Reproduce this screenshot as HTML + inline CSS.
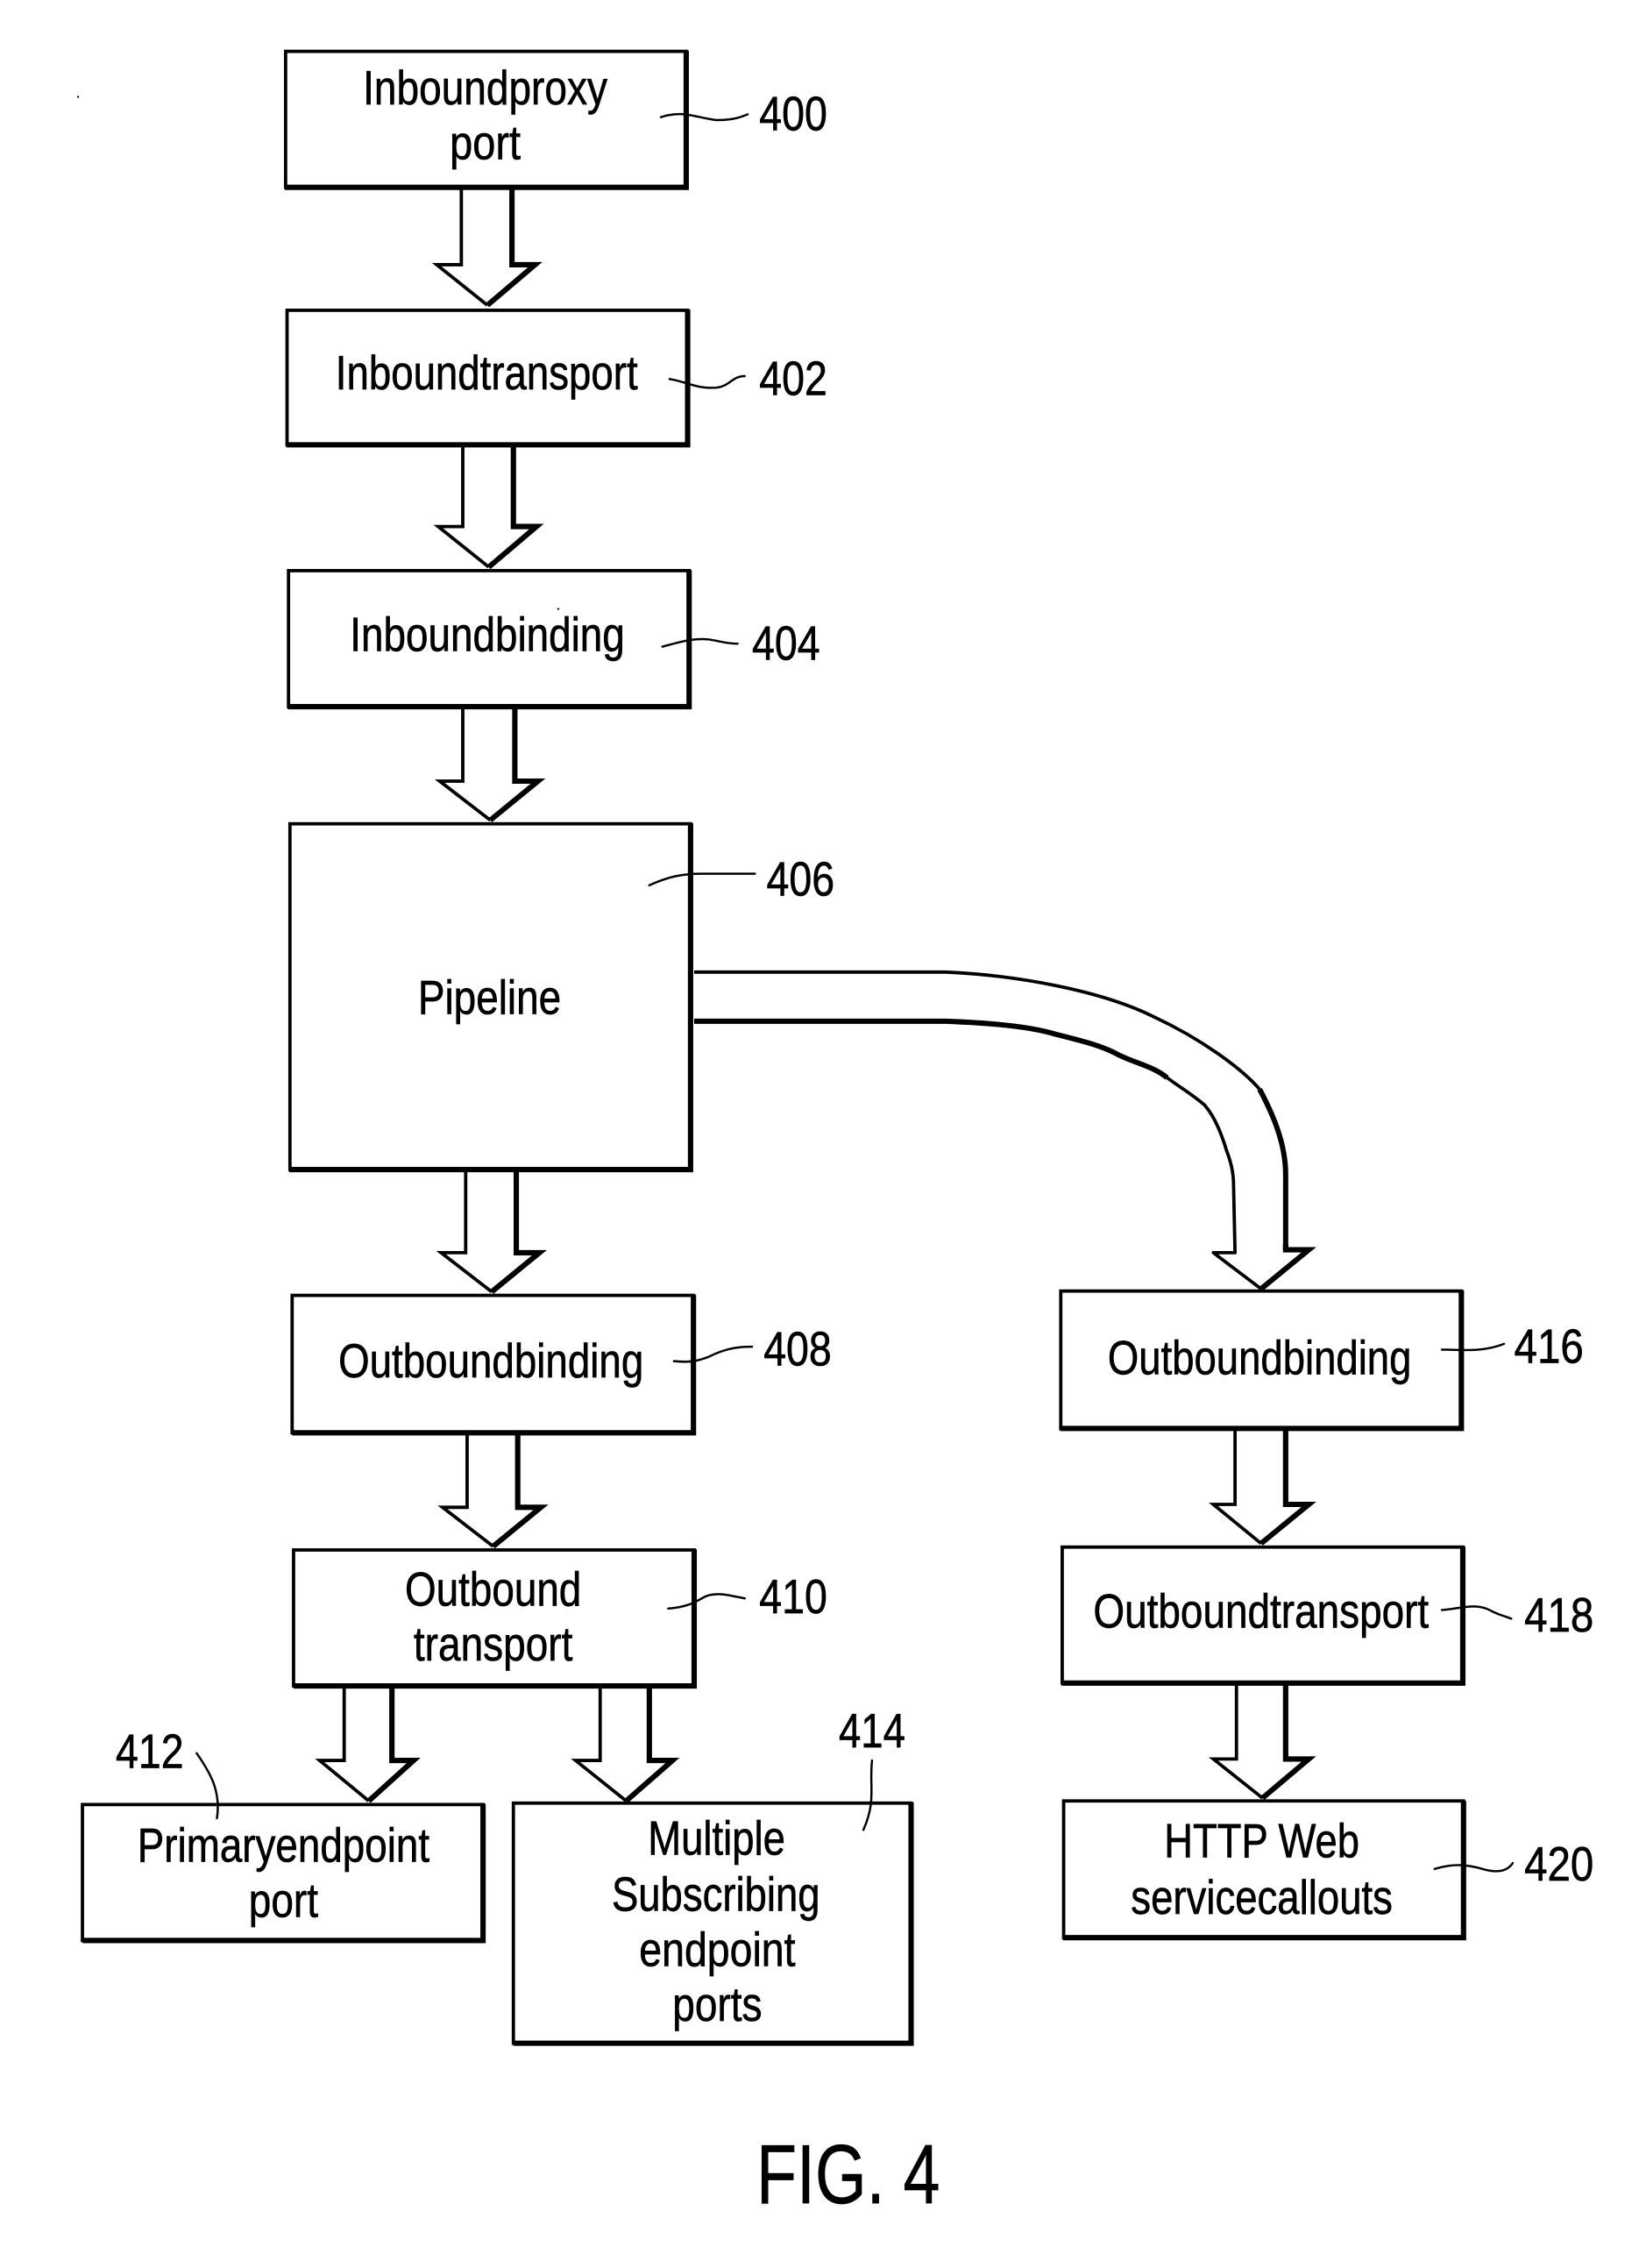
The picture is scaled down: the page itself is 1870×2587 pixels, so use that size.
<!DOCTYPE html>
<html>
<head>
<meta charset="utf-8">
<style>
html,body{margin:0;padding:0;background:#fff;}
svg{display:block;}
.t{fill:none;stroke:#000;stroke-width:2.3;stroke-linejoin:miter;}
.k{fill:none;stroke:#000;stroke-width:3.7;stroke-linejoin:miter;}
.c{fill:none;stroke:#000;stroke-width:2.3;stroke-linejoin:round;}
.d{fill:none;stroke:#000;stroke-width:3.6;stroke-linejoin:round;}
.l{fill:none;stroke:#000;stroke-width:1.5;stroke-linecap:round;}
text{font-family:"Liberation Sans",Arial,sans-serif;font-size:33px;fill:#000;stroke:#000;stroke-width:.4;}
</style>
</head>
<body>
<svg width="1870" height="2587" viewBox="0 0 1870 2587" xmlns="http://www.w3.org/2000/svg">
<rect width="1870" height="2587" fill="#fff"/>
<g transform="scale(1.65)">

<!-- Arrows -->
<path class="t" d="M319 131V183H302L337 211"/><path class="k" d="M354 131V183H370L337 211"/>
<path class="t" d="M320 309V364H303L338 392"/><path class="k" d="M355 309V364H371L338 392"/>
<path class="t" d="M320 490V540H304L339 567"/><path class="k" d="M356 490V540H372L339 567"/>
<path class="t" d="M322 810V866H305L340 893"/><path class="k" d="M357 810V866H373L340 893"/>
<path class="t" d="M323 992V1042H306L341 1069"/><path class="k" d="M358 992V1042H374L341 1069"/>
<path class="t" d="M238 1167V1217H221L255 1245"/><path class="k" d="M271 1167V1217H286L255 1245"/>
<path class="t" d="M415 1167V1217H398L433 1245"/><path class="k" d="M449 1167V1217H465L433 1245"/>
<path class="t" d="M854 989V1040H839L872 1067"/><path class="k" d="M889 989V1040H905L872 1067"/>
<path class="t" d="M855 1165V1216H839L873 1243"/><path class="k" d="M889 1165V1216H905L873 1243"/>

<!-- Curved connector -->
<path class="c" d="M480 672H654C700 674 760 684 798 703C830 718 858 738 871 753"/>
<path class="d" d="M871 753C880 770 889 790 889 812V864"/>
<path class="k" d="M889 860V864H905L872 891"/>
<path class="d" d="M480 706H654C680 707 710 709 730 715C750 720 762 723 773 729C785 735 797 737 807 745"/>
<path class="c" d="M807 745C815 751 825 757 833 764C840 772 845 785 848 795C851 803 853 810 853 820L854 866H839L872 891"/>

<!-- Boxes -->
<rect class="t" x="197.500" y="35.500" width="277" height="94"/><path class="k" d="M474.500 35V129.500H197"/>
<rect class="t" x="198.500" y="214.500" width="277" height="93"/><path class="k" d="M475.500 214V307.500H198"/>
<rect class="t" x="199.500" y="394.500" width="277" height="94"/><path class="k" d="M476.500 394V488.500H199"/>
<rect class="t" x="200.500" y="569.500" width="277" height="239"/><path class="k" d="M477.500 569V808.500H200"/>
<rect class="t" x="202" y="895.500" width="277.500" height="95"/><path class="k" d="M479.500 895V990.500H202"/>
<rect class="t" x="203" y="1071.500" width="277" height="94"/><path class="k" d="M480 1071V1165.500H203"/>
<rect class="t" x="57" y="1247.500" width="277" height="94"/><path class="k" d="M334 1247V1341.500H57"/>
<rect class="t" x="355" y="1246.500" width="275" height="166"/><path class="k" d="M630 1246V1412.500H355"/>
<rect class="t" x="733.500" y="892.500" width="277" height="95"/><path class="k" d="M1010.500 892V987.500H733"/>
<rect class="t" x="734.500" y="1069.500" width="277" height="94"/><path class="k" d="M1011.500 1069V1163.500H734"/>
<rect class="t" x="735.500" y="1245" width="276.500" height="94.500"/><path class="k" d="M1012 1245V1339.500H735"/>

<!-- Leader lines -->
<path class="l" d="M457 81C472 76 480 81 495 83C505 83 510 82 517 79"/>
<path class="l" d="M463 262C475 264 482 269 495 268C505 267 506 260 515 260"/>
<path class="l" d="M458 447C470 444 478 441 490 442C497 443 502 445 510 445"/>
<path class="l" d="M449 612C462 606 472 604 485 604L522 604"/>
<path class="l" d="M466 941C478 942 482 941 490 938C500 933 508 931 520 931"/>
<path class="l" d="M462 1112C475 1111 480 1108 487 1104C495 1100 505 1103 515 1105"/>
<path class="l" d="M136 1212C145 1225 153 1238 150 1257"/>
<path class="l" d="M603 1217C601 1235 606 1245 597 1265"/>
<path class="l" d="M997 933C1010 933 1025 935 1040 929"/>
<path class="l" d="M997 1113C1010 1112 1020 1108 1030 1113C1035 1116 1040 1117 1045 1119"/>
<path class="l" d="M992 1292C1005 1288 1015 1289 1025 1292C1035 1295 1042 1294 1046 1288"/>

<!-- Specks -->
<circle cx="54" cy="67" r=".7"/><circle cx="386" cy="421" r=".7"/>

<!-- Box labels -->
<text x="251" y="72" textLength="169" lengthAdjust="spacingAndGlyphs">Inboundproxy</text>
<text x="311" y="110" textLength="49" lengthAdjust="spacingAndGlyphs">port</text>
<text x="232" y="269" textLength="209" lengthAdjust="spacingAndGlyphs">Inboundtransport</text>
<text x="242" y="450" textLength="190" lengthAdjust="spacingAndGlyphs">Inboundbinding</text>
<text x="289" y="701" textLength="99" lengthAdjust="spacingAndGlyphs">Pipeline</text>
<text x="234" y="952" textLength="211" lengthAdjust="spacingAndGlyphs">Outboundbinding</text>
<text x="280" y="1110" textLength="122" lengthAdjust="spacingAndGlyphs">Outbound</text>
<text x="286" y="1148" textLength="110" lengthAdjust="spacingAndGlyphs">transport</text>
<text x="95" y="1287" textLength="202" lengthAdjust="spacingAndGlyphs">Primaryendpoint</text>
<text x="172" y="1325" textLength="48" lengthAdjust="spacingAndGlyphs">port</text>
<text x="448" y="1282" textLength="95" lengthAdjust="spacingAndGlyphs">Multiple</text>
<text x="423" y="1321" textLength="144" lengthAdjust="spacingAndGlyphs">Subscribing</text>
<text x="442" y="1359" textLength="108" lengthAdjust="spacingAndGlyphs">endpoint</text>
<text x="465" y="1397" textLength="62" lengthAdjust="spacingAndGlyphs">ports</text>
<text x="766" y="950" textLength="210" lengthAdjust="spacingAndGlyphs">Outboundbinding</text>
<text x="756" y="1125" textLength="232" lengthAdjust="spacingAndGlyphs">Outboundtransport</text>
<text x="805" y="1284" textLength="135" lengthAdjust="spacingAndGlyphs">HTTP Web</text>
<text x="782" y="1323" textLength="181" lengthAdjust="spacingAndGlyphs">servicecallouts</text>

<!-- Reference numbers -->
<text x="525" y="90" textLength="47" lengthAdjust="spacingAndGlyphs">400</text>
<text x="525" y="273" textLength="47" lengthAdjust="spacingAndGlyphs">402</text>
<text x="520" y="456" textLength="47" lengthAdjust="spacingAndGlyphs">404</text>
<text x="530" y="619" textLength="47" lengthAdjust="spacingAndGlyphs">406</text>
<text x="528" y="944" textLength="47" lengthAdjust="spacingAndGlyphs">408</text>
<text x="525" y="1115" textLength="47" lengthAdjust="spacingAndGlyphs">410</text>
<text x="80" y="1222" textLength="47" lengthAdjust="spacingAndGlyphs">412</text>
<text x="580" y="1208" textLength="46" lengthAdjust="spacingAndGlyphs">414</text>
<text x="1047" y="942" textLength="48" lengthAdjust="spacingAndGlyphs">416</text>
<text x="1054" y="1128" textLength="48" lengthAdjust="spacingAndGlyphs">418</text>
<text x="1054" y="1300" textLength="48" lengthAdjust="spacingAndGlyphs">420</text>

<text x="523" y="1523" textLength="127" lengthAdjust="spacingAndGlyphs" style="font-size:58px">FIG. 4</text>
</g>
</svg>
</body>
</html>
